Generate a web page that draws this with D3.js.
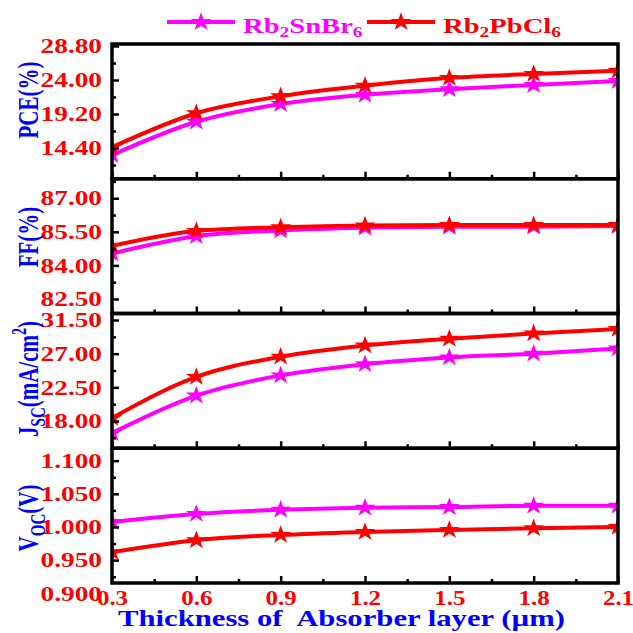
<!DOCTYPE html>
<meta charset="utf-8">
<style type="text/css">
    body { margin: 0; background: #fff; }
    text { font-family: "Liberation Serif", "Times New Roman", serif; font-weight: bold; }
    .frame { fill: none; stroke: #000; stroke-width: 3.5; }
    .tick line { stroke: #000; stroke-width: 2.5; }
    .line { fill: none; stroke-width: 4; }
</style>
<body>
</body>
<script src="https://d3js.org/d3.v7.min.js"></script>
<script>
// thickness of absorber layer (um)
var thickness = [0.3, 0.6, 0.9, 1.2, 1.5, 1.8, 2.1];

// Rb2SnBr6 (magenta) and Rb2PbCl6 (red)
var pceSn = [13.4, 18.1, 20.6, 21.9, 22.7, 23.3, 23.85];
var pcePb = [14.5, 19.3, 21.7, 23.2, 24.3, 24.85, 25.3];
var ffSn = [84.53, 85.3, 85.56, 85.68, 85.72, 85.73, 85.76];
var ffPb = [84.87, 85.54, 85.7, 85.78, 85.8, 85.8, 85.8];
var jscSn = [16.4, 21.4, 24.1, 25.6, 26.5, 27.0, 27.7];
var jscPb = [18.4, 23.9, 26.6, 28.1, 29.0, 29.7, 30.3];
var vocSn = [1.0076, 1.0197, 1.026, 1.029, 1.030, 1.032, 1.032];
var vocPb = [0.962, 0.980, 0.988, 0.9925, 0.9955, 0.998, 1.000];

// tick labels
var xTicks = [0.3, 0.6, 0.9, 1.2, 1.5, 1.8, 2.1];
var pceTicks = [14.4, 19.2, 24.0, 28.8];
var ffTicks = [82.5, 84.0, 85.5, 87.0];
var jscTicks = [18.0, 22.5, 27.0, 31.5];
var vocTicks = [0.900, 0.950, 1.000, 1.050, 1.100];

var seriesNames = ["Rb2SnBr6", "Rb2PbCl6"];
var colors = ["#ff00ff", "#ff0000"];

var width = 633, height = 633;
var mLeft = 112, mRight = 618, mTop = 44, mBottom = 583;
var panelH = (mBottom - mTop) / 4;
var sx = 1.3; // horizontal stretch of the original picture's text

var panels = [
    {sn: pceSn, pb: pcePb, ticks: pceTicks, minor: [12.0, 16.8, 21.6, 26.4], domain: [10.06, 29.08], dec: 2, title: [["PCE(%)", 0]], tcy: 100},
    {sn: ffSn, pb: ffPb, ticks: ffTicks, minor: [83.25, 84.75, 86.25, 87.75], domain: [81.85, 87.87], dec: 2, title: [["FF(%)", 0]], tcy: 237},
    {sn: jscSn, pb: jscPb, ticks: jscTicks, minor: [15.75, 20.25, 24.75, 29.25], domain: [14.36, 32.37], dec: 2, title: [["J", 0], ["SC", 1], ["(mA/cm", 0], ["2", -1], [")", 0]], tcy: 379},
    {sn: vocSn, pb: vocPb, ticks: vocTicks, minor: [0.925, 0.975, 1.025, 1.075], domain: [0.9155, 1.1187], dec: 3, title: [["V", 0], ["OC", 1], ["(V)", 0]], tcy: 518}
];

var svg = d3.select("body").append("svg")
    .attr("width", width)
    .attr("height", height);

var x = d3.scaleLinear().domain([0.3, 2.1]).range([mLeft, mRight]);
var xMinor = [0.45, 0.75, 1.05, 1.35, 1.65, 1.95];

var star = d3.symbol().type(d3.symbolStar).size(105);

panels.forEach(function(p, i) {
    var y0 = mTop + i * panelH, y1 = y0 + panelH;
    var y = d3.scaleLinear().domain(p.domain).range([y1, y0]);
    var g = svg.append("g");

    g.append("clipPath").attr("id", "clip" + i)
        .append("rect").attr("x", mLeft).attr("y", y0).attr("width", mRight - mLeft).attr("height", panelH);

    var line = d3.line()
        .x(function(d) { return x(d.x); })
        .y(function(d) { return y(d.y); })
        .curve(d3.curveMonotoneX);

    var plot = g.append("g").attr("clip-path", "url(#clip" + i + ")");
    [p.sn, p.pb].forEach(function(vals, k) {
        var ds = thickness.map(function(t, j) { return {x: t, y: vals[j]}; });
        plot.append("path").datum(ds).attr("class", "line")
            .attr("stroke", colors[k]).attr("d", line);
        plot.selectAll(".dot" + k).data(ds).enter().append("path")
            .attr("class", "dot" + k)
            .attr("d", star)
            .attr("fill", colors[k])
            .attr("transform", function(d) { return "translate(" + x(d.x) + "," + y(d.y) + ") scale(1.15,1)"; });
    });

    // y ticks (inward)
    var inDomain = p.ticks.filter(function(v) { return v >= p.domain[0] && v <= p.domain[1]; });
    g.append("g").attr("transform", "translate(" + mLeft + ",0)")
        .call(d3.axisLeft(y).tickValues(inDomain).tickSize(-7).tickFormat(""))
        .call(function(a) { a.select(".domain").remove(); });
    g.append("g").attr("transform", "translate(" + mLeft + ",0)")
        .call(d3.axisLeft(y).tickValues(p.minor).tickSize(-4).tickFormat(""))
        .call(function(a) { a.select(".domain").remove(); });
    // y labels
    var lab = g.append("g").attr("transform", "translate(" + mLeft + ",0)")
        .call(d3.axisLeft(y).tickValues(p.ticks).tickSize(0).tickPadding(7.7)
            .tickFormat(function(d) { return d.toFixed(p.dec); }));
    lab.select(".domain").remove();
    lab.selectAll("text")
        .attr("fill", "#ff0000")
        .style("font-size", "21px")
        .attr("transform", "scale(" + sx + ",1)");

    // x ticks at the panel bottom (inward)
    g.append("g").attr("transform", "translate(0," + y1 + ")")
        .call(d3.axisBottom(x).tickValues(xTicks).tickSize(-7).tickFormat(""))
        .call(function(a) { a.select(".domain").remove(); });
    g.append("g").attr("transform", "translate(0," + y1 + ")")
        .call(d3.axisBottom(x).tickValues(xMinor).tickSize(-4).tickFormat(""))
        .call(function(a) { a.select(".domain").remove(); });

    g.append("rect").attr("class", "frame")
        .attr("x", mLeft).attr("y", y0).attr("width", mRight - mLeft).attr("height", panelH);

    // y title
    var t = svg.append("text")
        .attr("transform", "translate(38," + p.tcy + ") rotate(-90) scale(1,1.45)")
        .attr("text-anchor", "middle")
        .attr("fill", "#0000ff")
        .style("font-size", "21px");
    p.title.forEach(function(part, j) {
        var ts = t.append("tspan").text(part[0]);
        if (part[1] === 1) ts.style("font-size", "15px").attr("dy", 5);
        else if (part[1] === -1) ts.style("font-size", "14px").attr("dy", -8);
        else if (j > 0 && p.title[j - 1][1] === 1) ts.attr("dy", -5);
        else if (j > 0 && p.title[j - 1][1] === -1) ts.attr("dy", 8);
    });
});

// x labels
var xl = svg.append("g").attr("transform", "translate(0," + mBottom + ")")
    .call(d3.axisBottom(x).tickValues(xTicks).tickSize(0).tickPadding(8)
        .tickFormat(function(d) { return d.toFixed(1); }));
xl.select(".domain").remove();
xl.selectAll("text")
    .attr("fill", "#ff0000")
    .style("font-size", "20px")
    .attr("transform", "scale(1.25,1)");

// x title
svg.append("text")
    .attr("x", 118).attr("y", 626)
    .attr("fill", "#0000ff")
    .style("font-size", "23px")
    .style("white-space", "pre")
    .attr("textLength", 447)
    .attr("lengthAdjust", "spacingAndGlyphs")
    .text("Thickness of  Absorber layer (\u00b5m)");

// legend
var legend = [
    {x1: 167, x2: 235, sx: 201, tx: 243, parts: [["Rb", 0], ["2", 1], ["SnBr", 0], ["6", 1]]},
    {x1: 367, x2: 435, sx: 401, tx: 443, parts: [["Rb", 0], ["2", 1], ["PbCl", 0], ["6", 1]]}
];
legend.forEach(function(l, k) {
    svg.append("line").attr("x1", l.x1).attr("x2", l.x2).attr("y1", 22).attr("y2", 22)
        .attr("stroke", colors[k]).attr("stroke-width", 4);
    svg.append("path").attr("d", star).attr("fill", colors[k])
        .attr("transform", "translate(" + l.sx + ",22) scale(1.15,1)");
    var t = svg.append("text")
        .attr("transform", "translate(" + l.tx + ",33) scale(" + sx + ",1)")
        .attr("fill", colors[k])
        .style("font-size", "22px");
    l.parts.forEach(function(part, j) {
        var ts = t.append("tspan").text(part[0]);
        if (part[1] === 1) ts.style("font-size", "15px").attr("dy", 4);
        else if (j > 0) ts.attr("dy", -4);
    });
});
</script>
